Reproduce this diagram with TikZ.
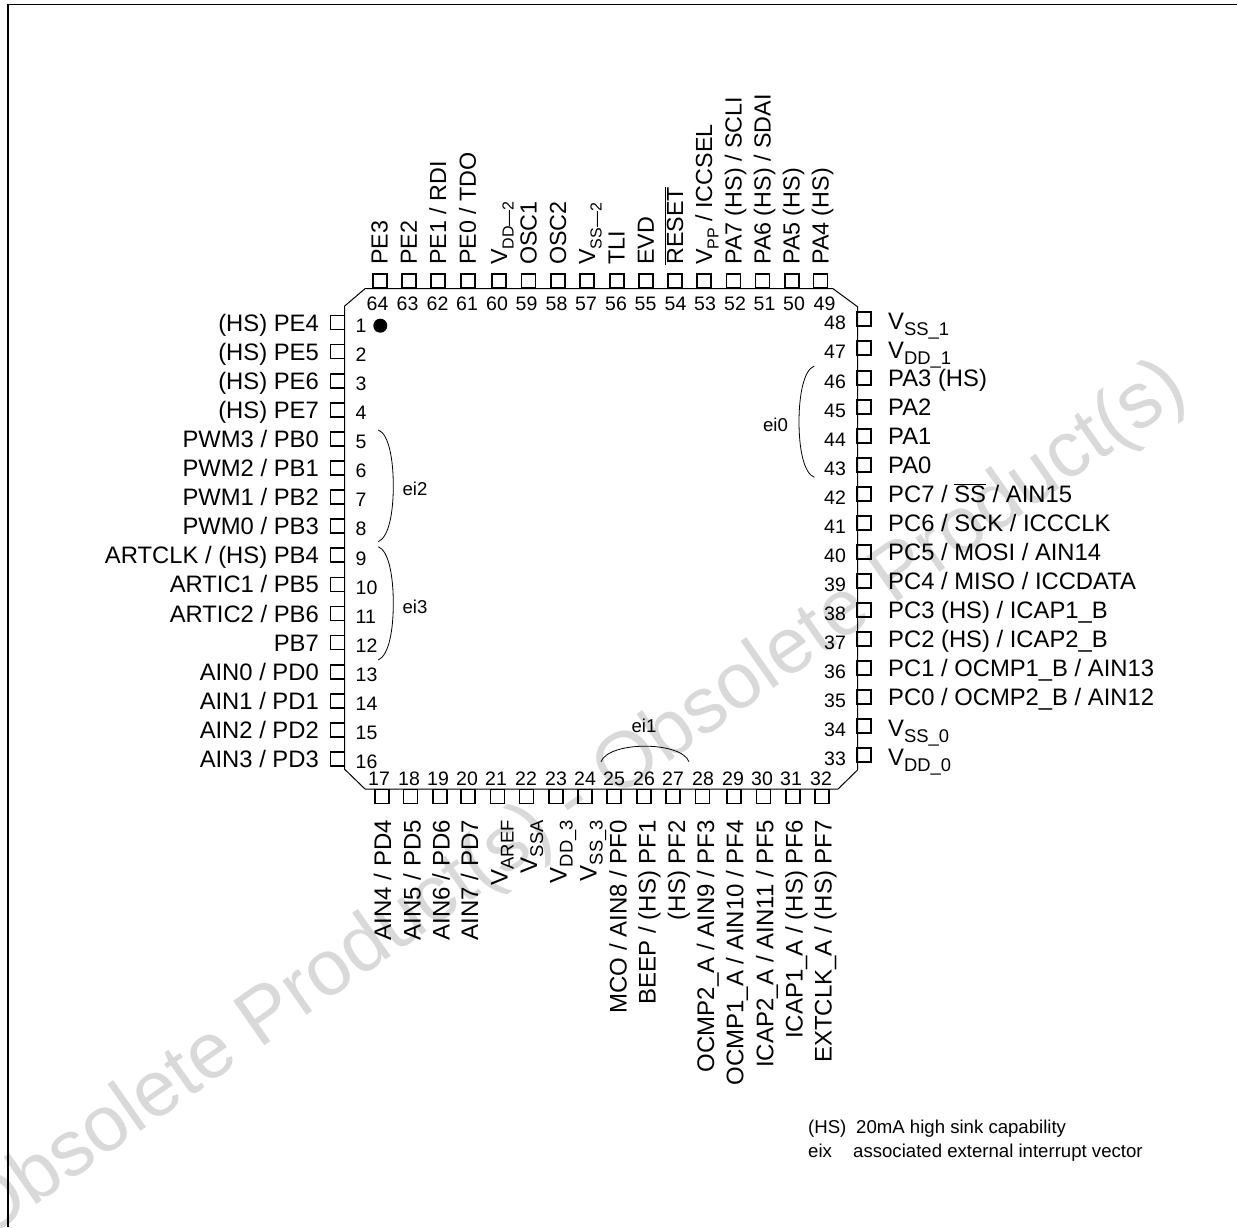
\documentclass[tikz,border=0pt]{standalone}
\usepackage{fontspec}
\setmainfont{Liberation Sans}
\newcommand\txtf{\fontsize{23.8}{28}\selectfont}
\newcommand\topf{\fontsize{23.3}{28}\selectfont}
\newcommand\botf{\fontsize{24}{28}\selectfont}
\newcommand\numf{\fontsize{19.5}{22}\selectfont}
\newcommand\smf{\fontsize{18.6}{22}\selectfont}
\newcommand\vs[1]{V\raisebox{-.26em}{\fontsize{18.4}{22}\selectfont #1}}
\newcommand\vt[1]{V\raisebox{-.28em}{\fontsize{16}{20}\selectfont #1}}
\tikzset{
  x=1pt,y=-1pt,
  pinbox/.style={draw=black,line width=1.7pt,minimum size=14pt,inner sep=0pt,outer sep=0pt},
  pinnum/.style={font=\numf,inner sep=0pt},
  pinlab/.style={font=\txtf,inner sep=0pt},
  toplab/.style={font=\topf,inner sep=0pt},
  botlab/.style={font=\botf,inner sep=0pt},
  wire/.style={line width=1pt,black},
  brace/.style={line width=.8pt,black},
  small/.style={font=\smf,inner sep=0pt},
}
\newcommand\leftpin[3]{%
  \node[pinbox] (p#1) at (337.5,#2) {};
  \node[pinnum,anchor=west] (n#1) at (355.5,#2+3) {#1};
  \node[pinlab,anchor=base east] (t#1) at (319,#2+8.5) {#3};}
\newcommand\rightpin[4]{%
  \node[pinbox] (p#1) at (864.2,#2) {};
  \node[pinnum] (n#1) at (835,#2+3.5) {#1};
  \node[pinlab,anchor=base west] (t#1) at (888,#2+#3) {#4};}
\newcommand\toppin[4]{%
  \node[pinbox] (p#1) at (#2,281) {};
  \node[pinnum] (n#1) at (#3,304) {#1};
  \node[toplab,rotate=90,anchor=base west] (t#1) at (#2+8,265) {#4};}
\newcommand\botpin[5]{%
  \node[pinbox] (p#1) at (#2,796.5) {};
  \node[pinnum] (n#1) at (#3,778.8) {#1};
  \node[botlab,rotate=90,anchor=base east] (t#1) at (#4,820) {#5};}
\begin{document}
\begin{tikzpicture}
\path[use as bounding box] (0,0) rectangle (1237,1227);
\begin{scope}
\clip (0,0) rectangle (1237,1227);
\node[font=\fontsize{79}{90}\selectfont,text=black!15,rotate=35,inner sep=0pt,anchor=base west] (wm) at (-18,1243) {Obsolete Product(s) - Obsolete Product(s)};
\end{scope}
\coordinate (fa) at (1237,4.5); \coordinate (fb) at (8,4.5); \coordinate (fc) at (8,1227);
\draw[line width=1.2pt] (fa) -- (fb) -- (fc);
\coordinate (c1) at (365,288.7); \coordinate (c2) at (833,288.7); \coordinate (c3) at (857.5,306.7);
\coordinate (c4) at (857.5,770); \coordinate (c5) at (838,789); \coordinate (c6) at (365,789);
\coordinate (c7) at (344.7,769.3); \coordinate (c8) at (344.7,306);
\draw[wire] (c1) -- (c2) -- (c3) -- (c4) -- (c5) -- (c6) -- (c7) -- (c8) -- cycle;
\node[circle,fill=black,minimum size=14pt,inner sep=0pt] (dot) at (380.3,325.7) {};
\leftpin{1}{322.5}{(HS) PE4}
\leftpin{2}{351.6}{(HS) PE5}
\leftpin{3}{380.7}{(HS) PE6}
\leftpin{4}{409.8}{(HS) PE7}
\leftpin{5}{438.9}{PWM3 / PB0}
\leftpin{6}{468}{PWM2 / PB1}
\leftpin{7}{497.1}{PWM1 / PB2}
\leftpin{8}{526.2}{PWM0 / PB3}
\leftpin{9}{555.3}{ARTCLK / (HS) PB4}
\leftpin{10}{584.4}{ARTIC1 / PB5}
\leftpin{11}{613.5}{ARTIC2 / PB6}
\leftpin{12}{642.6}{PB7}
\leftpin{13}{671.7}{AIN0 / PD0}
\leftpin{14}{700.8}{AIN1 / PD1}
\leftpin{15}{729.9}{AIN2 / PD2}
\leftpin{16}{759}{AIN3 / PD3}
\rightpin{48}{319}{10}{\vs{SS\_1}}
\rightpin{47}{348}{10}{\vs{DD\_1}}
\rightpin{46}{378}{8.7}{PA3 (HS)}
\rightpin{45}{407}{8.7}{PA2}
\rightpin{44}{436}{8.7}{PA1}
\rightpin{43}{465}{8.7}{PA0}
\rightpin{42}{494}{8.7}{PC7 / $\overline{\hbox{SS}}$ / AIN15}
\rightpin{41}{523}{8.7}{PC6 / SCK / ICCCLK}
\rightpin{40}{552}{8.7}{PC5 / MOSI / AIN14}
\rightpin{39}{581}{8.7}{PC4 / MISO / ICCDATA}
\rightpin{38}{610}{8.7}{PC3 (HS) / ICAP1\_B}
\rightpin{37}{639}{8.7}{PC2 (HS) / ICAP2\_B}
\rightpin{36}{668}{8.7}{PC1 / OCMP1\_B / AIN13}
\rightpin{35}{697}{8.7}{PC0 / OCMP2\_B / AIN12}
\rightpin{34}{726}{10}{\vs{SS\_0}}
\rightpin{33}{755}{10}{\vs{DD\_0}}
\toppin{64}{379.7}{377.5}{PE3}
\toppin{63}{408.8}{407.5}{PE2}
\toppin{62}{438.2}{437.5}{PE1 / RDI}
\toppin{61}{467.8}{467}{PE0 / TDO}
\toppin{60}{499}{497}{\vt{DD---2}}
\toppin{59}{528.5}{526.5}{OSC1}
\toppin{58}{558}{556.5}{OSC2}
\toppin{57}{587}{586}{\vt{SS---2}}
\toppin{56}{616.7}{616}{TLI}
\toppin{55}{645.8}{645.5}{EVD}
\toppin{54}{675}{675.5}{$\overline{\hbox{RESET}}$}
\toppin{53}{704}{705}{\vt{PP} / ICCSEL}
\toppin{52}{733.5}{735}{PA7 (HS) / SCLI}
\toppin{51}{762.5}{764.5}{PA6 (HS) / SDAI}
\toppin{50}{791.7}{794}{PA5 (HS)}
\toppin{49}{820.5}{824.5}{PA4 (HS)}
\botpin{17}{381.7}{379}{391}{AIN4 / PD4}
\botpin{18}{410.5}{409}{420.5}{AIN5 / PD5}
\botpin{19}{439.7}{438}{449.5}{AIN6 / PD6}
\botpin{20}{468.3}{467}{478}{AIN7 / PD7}
\botpin{21}{497.5}{496}{507.5}{\vs{AREF}}
\botpin{22}{526.5}{526}{537}{\vs{SSA}}
\botpin{23}{556}{556}{566.5}{\vs{DD\_3}}
\botpin{24}{585}{585}{596.5}{\vs{SS\_3}}
\botpin{25}{614}{614}{626.5}{MCO / AIN8 / PF0}
\botpin{26}{644}{644}{655.5}{BEEP / (HS) PF1}
\botpin{27}{673}{673}{685}{(HS) PF2}
\botpin{28}{702.5}{703}{714}{OCMP2\_A / AIN9 / PF3}
\botpin{29}{734}{733}{743.3}{OCMP1\_A / AIN10 / PF4}
\botpin{30}{763.5}{762}{773.3}{ICAP2\_A / AIN11 / PF5}
\botpin{31}{793}{791}{802.7}{ICAP1\_A / (HS) PF6}
\botpin{32}{822}{821}{831.7}{EXTCLK\_A / (HS) PF7}
\coordinate (e2a) at (378.3,430); \coordinate (e2m) at (393.3,486); \coordinate (e2b) at (378.3,541.7);
\coordinate (e3a) at (378.3,546.7); \coordinate (e3m) at (393.3,603.5); \coordinate (e3b) at (378.3,660);
\coordinate (e0a) at (814.3,366); \coordinate (e0m) at (799,421.7); \coordinate (e0b) at (814.3,477.3);
\coordinate (e1a) at (601,761.7); \coordinate (e1b) at (689,761.7);
\draw[brace] (e2a) .. controls (389,434) and (393.3,460) .. (e2m) .. controls (393.3,512) and (389,537) .. (e2b);
\draw[brace] (e3a) .. controls (389,551) and (393.3,577) .. (e3m) .. controls (393.3,630) and (389,655) .. (e3b);
\draw[brace] (e0a) .. controls (803.5,370) and (799,396) .. (e0m) .. controls (799,448) and (803.5,473) .. (e0b);
\draw[brace] (e1a) .. controls (609,741) and (681,741) .. (e1b);
\node[small,anchor=base] (ei2) at (415,495) {ei2};
\node[small,anchor=base] (ei3) at (415,613.3) {ei3};
\node[small,anchor=base] (ei0) at (775.5,431) {ei0};
\node[small,anchor=base] (ei1) at (644,732.7) {ei1};
\node[small,anchor=base west] (leg1) at (808,1133) {(HS)};
\node[small,anchor=base west] (leg1b) at (856,1133) {20mA high sink capability};
\node[small,anchor=base west] (leg2) at (808,1157) {eix};
\node[small,anchor=base west] (leg3) at (853,1157) {associated external interrupt vector};
\end{tikzpicture}
\end{document}
